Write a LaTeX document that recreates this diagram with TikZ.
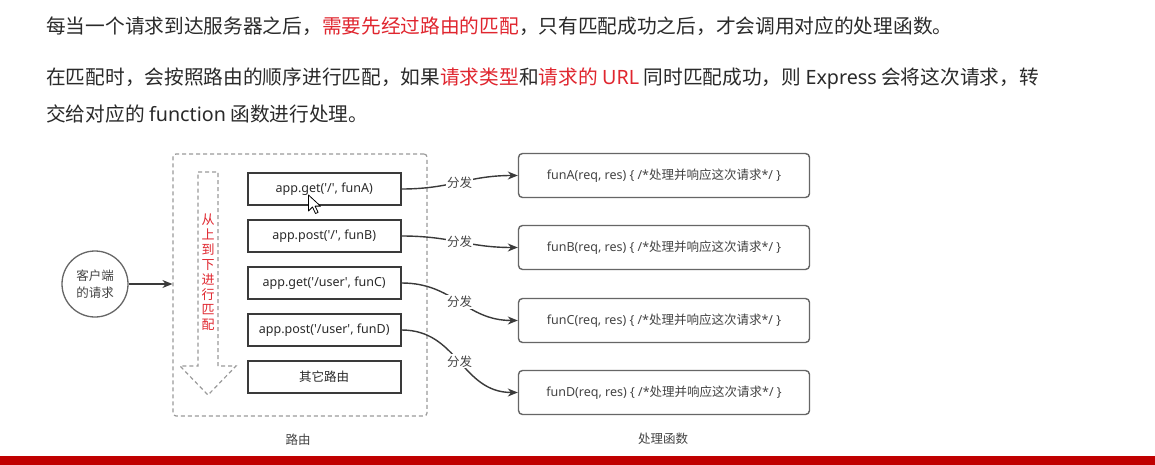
\documentclass[tikz,border=0pt]{standalone}
\usepackage{fontspec}
\setmainfont{Noto Sans CJK SC}
\newfontfamily\latin{Noto Sans}
\newfontfamily\cjk{Noto Sans CJK SC}
\usetikzlibrary{arrows.meta}

\definecolor{ink}{HTML}{2A2A2A}
\definecolor{hl}{HTML}{E0262F}
\definecolor{boxline}{HTML}{3A3A3A}
\definecolor{fnline}{HTML}{666666}
\definecolor{dashline}{HTML}{9A9A9A}
\definecolor{labeltext}{HTML}{444444}
\definecolor{barred}{HTML}{C00000}

\newcommand{\q}{\textquotesingle}

\tikzset{
  para/.style={anchor=base west, inner sep=0pt, text=ink,
    font=\fontsize{19.7}{24}\selectfont},
  route/.style={draw=boxline, line width=1.8pt, minimum width=153pt,
    minimum height=32pt, inner sep=0pt, text=ink,
    font=\latin\fontsize{12.5}{15}\selectfont},
  handler/.style={draw=fnline, line width=1.4pt, rounded corners=4pt,
    minimum width=291pt, minimum height=44pt, inner sep=0pt,
    text=labeltext, font=\latin\fontsize{12.5}{15}\selectfont},
  client/.style={circle, draw=fnline, line width=1.3pt, minimum size=66pt,
    inner sep=0pt, align=center, text=labeltext,
    font=\fontsize{12.5}{17}\selectfont},
  container/.style={draw=dashline, line width=1.2pt, dash pattern=on 4pt off 3pt,
    rounded corners=3pt, minimum width=254pt, minimum height=262pt, inner sep=0pt},
  dispatch/.style={draw=boxline, line width=1.4pt,
    -{Stealth[length=10pt, width=8pt]}},
  tag/.style={fill=white, inner sep=1pt, text=labeltext,
    font=\fontsize{12.5}{14}\selectfont},
  caption/.style={inner sep=0pt, text=labeltext, font=\fontsize{12.5}{15}\selectfont},
}

\begin{document}
\begin{tikzpicture}[x=1pt, y=-1pt]
  \useasboundingbox (0,0) rectangle (1155,465);
  \fill[white] (0,0) rectangle (1155,465);

  % paragraph text
  \node[para] (p1) at (46,33.5) {每当一个请求到达服务器之后，\textcolor{hl}{需要先经过路由的匹配}，只有匹配成功之后，才会调用对应的处理函数。};
  \node[para] (p2) at (46,85) {在匹配时，会按照路由的顺序进行匹配，如果\textcolor{hl}{请求类型}和\textcolor{hl}{请求的 {\latin URL}} 同时匹配成功，则 {\latin Express} 会将这次请求，转};
  \node[para] (p3) at (46,122) {交给对应的 {\latin function} 函数进行处理。};

  % route container
  \node[container] (routes) at (300,285) {};
  \node[caption] (routescap) at (298,440) {路由};

  % top-to-bottom matching arrow
  \draw[dashline, line width=1.2pt, dash pattern=on 4pt off 3pt, line join=miter]
    (198,172) -- (218,172) -- (218,366) -- (236,366) -- (208,395)
    -- (180,366) -- (198,366) -- cycle;
  \node[inner sep=0pt, align=center, text=hl, font=\fontsize{13}{15}\selectfont]
    (order) at (208,272.5) {从\\上\\到\\下\\进\\行\\匹\\配};

  % routes
  \node[route] (r1) at (324.2,189) {app.get(\q/\q, funA)};
  \node[route] (r2) at (324.2,236) {app.post(\q/\q, funB)};
  \node[route] (r3) at (324.2,283) {app.get(\q/user\q, funC)};
  \node[route] (r4) at (324.2,330) {app.post(\q/user\q, funD)};
  \node[route] (r5) at (324.2,377) {{\cjk 其它路由}};

  % client
  \node[client] (cli) at (95,284) {客户端\\的请求};
  \draw[dispatch] (cli.east) -- (cli.east -| routes.west);

  % handlers
  \node[handler] (f1) at (664,175.5) {funA(req, res) \{ /*{\cjk 处理并响应这次请求}*/ \}};
  \node[handler] (f2) at (664,247.5) {funB(req, res) \{ /*{\cjk 处理并响应这次请求}*/ \}};
  \node[handler] (f3) at (664,320.5) {funC(req, res) \{ /*{\cjk 处理并响应这次请求}*/ \}};
  \node[handler] (f4) at (664,392.5) {funD(req, res) \{ /*{\cjk 处理并响应这次请求}*/ \}};
  \node[caption] (fncap) at (663,439) {处理函数};

  % dispatch connectors
  \draw[dispatch] (r1.east) to[out=0, in=180, looseness=1.1] node[tag] {分发} (f1.west);
  \draw[dispatch] (r2.east) to[out=0, in=180, looseness=1.1] node[tag] {分发} (f2.west);
  \draw[dispatch] (r3.east) to[out=0, in=180, looseness=1.1] node[tag] {分发} (f3.west);
  \draw[dispatch] (r4.east) to[out=0, in=180, looseness=1.1] node[tag] {分发} (f4.west);

  % mouse pointer
  \draw[fill=white, draw=black, line width=0.8pt, line join=round]
    (308.5,195) -- ++(0,16) -- ++(4,-4) -- ++(3,6.5) -- ++(2.6,-1.1)
    -- ++(-3,-6.3) -- ++(5.4,0) -- cycle;

  % bottom bar
  \fill[barred] (0,456) rectangle (1155,465);
\end{tikzpicture}
\end{document}
